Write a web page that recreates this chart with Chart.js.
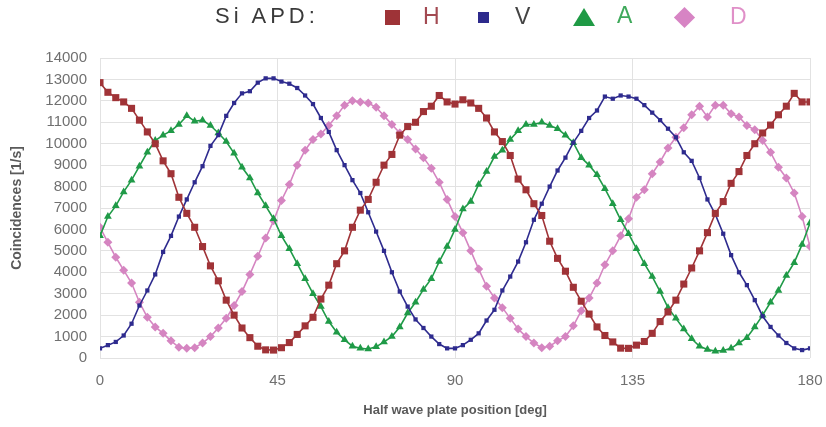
<!DOCTYPE html>
<html>
<head>
<meta charset="utf-8">
<script src="https://cdn.jsdelivr.net/npm/chart.js@4.4.0/dist/chart.umd.min.js"></script>
<style>
  html, body { margin: 0; padding: 0; background: #ffffff; }
  #wrap { position: relative; width: 826px; height: 427px; overflow: hidden; background: #fff; }
  #chart { position: absolute; left: 0; top: 0; }
  .lg { position: absolute; font-family: "Liberation Sans", Arial, sans-serif; line-height: 1; white-space: nowrap; }
  .mk { position: absolute; }
</style>
</head>
<body>
<div id="wrap">
  <canvas id="chart" width="826" height="427"></canvas>
  <div class="lg" style="left:215px; top:5px; font-size:22px; letter-spacing:4px; color:#3a3a3a;">Si APD:</div>
  <div class="mk" style="left:385px; top:10px; width:15px; height:15px; background:#9e3337;"></div>
  <div class="lg" style="left:423px; top:5px; font-size:23px; color:#a34a52;">H</div>
  <div class="mk" style="left:478px; top:12px; width:11px; height:11px; background:#2d2a8c;"></div>
  <div class="lg" style="left:515px; top:5px; font-size:23px; color:#444444;">V</div>
  <div class="mk" style="left:573px; top:8px; width:0; height:0; border-left:11px solid transparent; border-right:11px solid transparent; border-bottom:18px solid #1f9a45;"></div>
  <div class="lg" style="left:617px; top:4px; font-size:23px; color:#3fa95b;">A</div>
  <div class="mk" style="left:677px; top:10px; width:15px; height:15px; background:#d784c4; transform:rotate(45deg);"></div>
  <div class="lg" style="left:730px; top:5px; font-size:23px; color:#e090c8;">D</div>
</div>
<script>
// Half wave plate position [deg]
const angles = [0,2,4,6,8,10,12,14,16,18,20,22,24,26,28,30,32,34,36,38,40,42,44,46,48,50,52,54,56,58,60,62,64,66,68,70,72,74,76,78,80,82,84,86,88,90,92,94,96,98,100,102,104,106,108,110,112,114,116,118,120,122,124,126,128,130,132,134,136,138,140,142,144,146,148,150,152,154,156,158,160,162,164,166,168,170,172,174,176,178,180];

// Coincidences [1/s]
const seriesH = [12850,12400,12150,11950,11650,11100,10550,10000,9200,8600,7500,6750,6100,5200,4300,3600,2700,2000,1400,950,550,380,370,480,720,1100,1500,1900,2750,3400,4400,5000,6100,6900,7400,8200,9000,9500,10400,10800,11000,11500,11750,12250,11950,11850,12050,11900,11650,11200,10550,10100,9450,8350,7850,7200,6650,5450,4650,4050,3300,2650,2050,1450,1050,750,460,450,600,770,1150,1700,2150,2700,3450,4200,5000,5850,6750,7300,8150,8700,9450,10000,10500,10870,11350,11750,12350,11950,11950];

const seriesV = [450,600,750,1050,1600,2450,3150,3900,4950,5700,6600,7400,8200,8950,9900,10400,11300,11900,12350,12450,12850,13050,13050,12900,12800,12600,12250,11850,11200,10550,9700,9000,8300,7700,6800,5900,5000,4000,3100,2400,1800,1400,1000,650,450,450,600,850,1150,1750,2250,3150,3800,4500,5400,6450,7200,8000,8750,9350,10050,10600,11200,11550,12200,12100,12250,12200,12100,11800,11450,11100,10700,10300,9600,9200,8400,7400,6700,5800,4800,4000,3400,2700,1950,1450,1050,700,450,370,450];

const seriesA = [5700,6600,7100,7750,8300,8950,9600,10150,10400,10600,10900,11300,11050,11100,10850,10500,10100,9550,8900,8400,7700,7100,6500,5700,5100,4400,3700,3000,2400,1700,1200,850,550,450,420,520,750,1000,1450,2100,2600,3200,3700,4500,5200,6000,6950,7300,8100,8700,9400,9700,10200,10600,10900,10900,11000,10850,10700,10400,10050,9350,9000,8550,7900,7200,6450,5800,5100,4400,3800,3100,2350,1850,1350,900,550,400,320,350,450,700,950,1450,2000,2600,3150,3850,4450,5300,6300];

const seriesD = [6100,5400,4700,4100,3500,2600,1900,1450,1150,800,500,450,480,700,1000,1400,1850,2450,3100,3900,4750,5600,6400,7350,8100,9000,9700,10200,10450,10850,11300,11800,12000,11950,11900,11700,11300,10900,10500,10200,9750,9350,8850,8200,7400,6600,5850,5000,4150,3350,2800,2350,1850,1350,1000,700,480,550,800,1000,1500,2200,2800,3500,4350,5000,5700,6500,7500,7850,8600,9150,9800,10300,10750,11350,11750,11250,11800,11800,11400,11250,10850,10650,10150,9600,8900,8400,7700,6600,5200];

const seriesNames = ['H', 'V', 'A', 'D'];
const xTickValues = [0, 45, 90, 135, 180];

function pts(arr) { return angles.map((a, i) => ({ x: a, y: arr[i] })); }

const styles = {
  H: { color: '#a03337', pointStyle: 'rect', radius: 5 },
  V: { color: '#2e2b8e', pointStyle: 'rect', radius: 3 },
  A: { color: '#1f9a47', pointStyle: 'triangle', radius: 4.5 },
  D: { color: '#d585c1', pointStyle: 'rectRot', radius: 4.5 }
};
const values = { H: seriesH, V: seriesV, A: seriesA, D: seriesD };

const datasets = seriesNames.map(n => ({
  label: n,
  data: pts(values[n]),
  borderColor: styles[n].color,
  backgroundColor: styles[n].color,
  pointBackgroundColor: styles[n].color,
  pointBorderColor: styles[n].color,
  pointBorderWidth: 0,
  pointStyle: styles[n].pointStyle,
  pointRadius: styles[n].radius,
  borderWidth: 1.6,
  tension: 0,
  fill: false
}));

new Chart(document.getElementById('chart'), {
  type: 'line',
  data: { datasets },
  options: {
    responsive: false,
    animation: false,
    devicePixelRatio: 1,
    layout: { padding: { left: 0, right: 16, top: 58, bottom: 5 } },
    plugins: { legend: { display: false }, tooltip: { enabled: false } },
    scales: {
      x: {
        type: 'linear',
        min: 0, max: 180,
        afterBuildTicks: (axis) => { axis.ticks = xTickValues.map(v => ({ value: v })); },
        afterFit: (axis) => { axis.height = 64; axis.paddingRight = 0; axis.paddingLeft = 0; },
        grid: { color: '#e2e2e2', lineWidth: 1, drawTicks: false },
        border: { display: false },
        ticks: { padding: 14, color: '#707070', font: { family: 'Liberation Sans', size: 15 },
                 callback: (v) => String(v) },
        title: {
          display: true, text: 'Half wave plate position [deg]',
          color: '#5a5a5a', font: { family: 'Liberation Sans', size: 13, weight: 'bold' },
          padding: { top: 4, bottom: 4 }
        }
      },
      y: {
        min: 0, max: 14000,
        afterFit: (axis) => { axis.width = 100; axis.paddingTop = 0; axis.paddingBottom = 0; },
        grid: { color: '#e2e2e2', lineWidth: 1, drawTicks: false },
        border: { display: false },
        ticks: { stepSize: 1000, padding: 13, color: '#707070', font: { family: 'Liberation Sans', size: 15 },
                 callback: (v) => String(v) },
        title: {
          display: true, text: 'Coincidences [1/s]',
          color: '#5a5a5a', font: { family: 'Liberation Sans', size: 14, weight: 'bold' },
          padding: { top: 9, bottom: 4 }
        }
      }
    }
  }
});
</script>
</body>
</html>
